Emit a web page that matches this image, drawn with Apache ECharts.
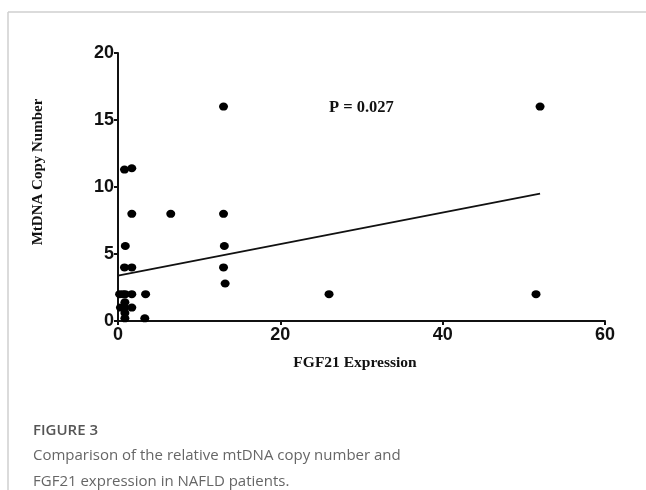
<!DOCTYPE html>
<html>
<head>
<meta charset="utf-8">
<script src="https://cdn.jsdelivr.net/npm/echarts@6/dist/echarts.min.js"></script>
<style>
html,body{margin:0;padding:0;background:#fff;}
#c{width:646px;height:490px;}
</style>
</head>
<body>
<div id="c"></div>
<script>
// FGF21 expression (x) and mtDNA copy number (y)
var fgf21 = [13, 52, 0.8, 1.7, 1.7, 6.5, 13, 0.9, 13.1, 0.8, 1.7, 13, 13.2, 0.2, 0.6, 0.9, 1.7, 3.4, 26, 51.5, 0.85, 0.3, 0.8, 1.7, 0.85, 0.85, 3.3];
var mtdna  = [16, 16, 11.3, 11.4, 8, 8, 8, 5.6, 5.6, 4, 4, 4, 2.8, 2, 2, 2, 2, 2, 2, 2, 1.4, 1, 1, 1, 0.6, 0.2, 0.2];
// fitted regression line endpoints
var fitX = [0, 52];
var fitY = [3.38, 9.5];
var xTicks = [0, 20, 40, 60];
var yTicks = [0, 5, 10, 15, 20];
var pText = "P = 0.027";
var xTitle = "FGF21 Expression";
var yTitle = "MtDNA Copy Number";

var pts = fgf21.map(function(x, i){ return [x, mtdna[i]]; });
var fit = fitX.map(function(x, i){ return [x, fitY[i]]; });

var chart = echarts.init(document.getElementById('c'), null, {renderer:'canvas'});
var tickFont = {fontFamily:'Liberation Sans, Arial, sans-serif', fontWeight:'bold', fontSize:18, color:'#111'};
var serifBold = '"Liberation Serif", "Times New Roman", serif';
chart.setOption({
  animation:false,
  grid:{left:118, right:41, top:53, bottom:169},
  xAxis:{
    type:'value', min:xTicks[0], max:xTicks[xTicks.length-1], interval:20,
    splitLine:{show:false},
    axisLine:{lineStyle:{color:'#111', width:2}},
    axisTick:{show:true, length:4, lineStyle:{color:'#111', width:2}},
    axisLabel:Object.assign({margin:5}, tickFont)
  },
  yAxis:{
    type:'value', min:yTicks[0], max:yTicks[yTicks.length-1], interval:5,
    splitLine:{show:false},
    axisLine:{lineStyle:{color:'#111', width:2}},
    axisTick:{show:true, length:4, lineStyle:{color:'#111', width:2}},
    axisLabel:Object.assign({margin:4}, tickFont)
  },
  series:[
    {type:'scatter', data:pts, symbol:'circle', symbolSize:[9,8], itemStyle:{color:'#000', opacity:1}, clip:false, z:3},
    {type:'line', data:fit, symbol:'none', lineStyle:{color:'#111', width:1.8}, z:2}
  ],
  graphic:[
    {type:'line', shape:{x1:8, y1:12, x2:646, y2:12}, style:{stroke:'#cfcfcf', lineWidth:1.5}},
    {type:'line', shape:{x1:8, y1:12, x2:8, y2:490}, style:{stroke:'#cfcfcf', lineWidth:1.5}},
    {type:'text', left:329, top:99, style:{text:pText, font:'bold 16.5px ' + serifBold, fill:'#111'}},
    {type:'text', x:355, y:363, style:{text:xTitle, font:'bold 15.5px ' + serifBold, fill:'#111', align:'center', verticalAlign:'middle'}},
    {type:'text', x:38, y:172, rotation:Math.PI/2, style:{text:yTitle, font:'bold 15px ' + serifBold, fill:'#111', align:'center', verticalAlign:'middle'}},
    {type:'text', left:33, top:423, style:{text:'FIGURE 3', font:'600 15px "Open Sans", sans-serif', fill:'#555'}},
    {type:'text', left:33, top:448, style:{text:'Comparison of the relative mtDNA copy number and', font:'15px "Open Sans", sans-serif', fill:'#666'}},
    {type:'text', left:33, top:474, style:{text:'FGF21 expression in NAFLD patients.', font:'15px "Open Sans", sans-serif', fill:'#666'}}
  ]
});
</script>
</body>
</html>
